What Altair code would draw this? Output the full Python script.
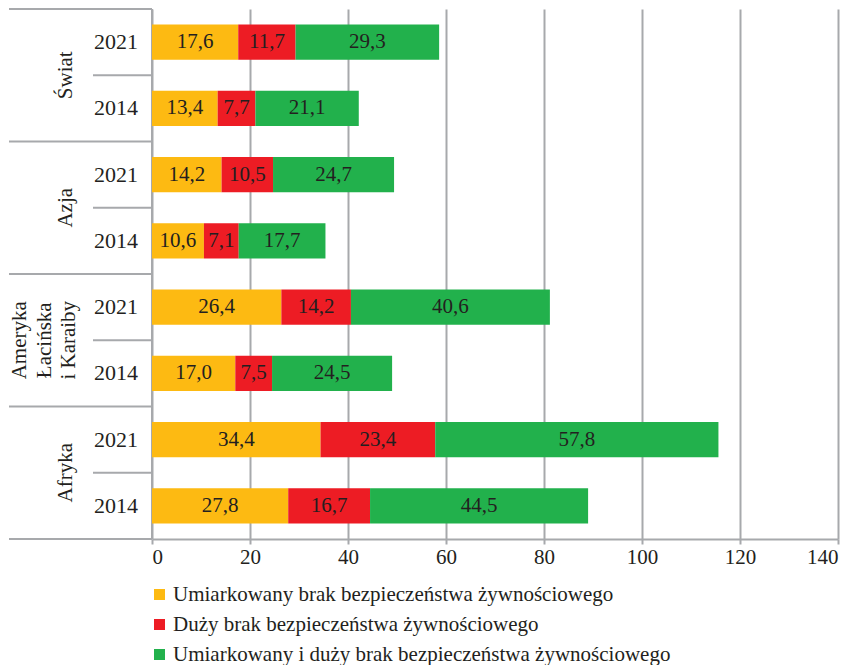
import altair as alt
import pandas as pd

regions = ["Świat", "Azja", "Ameryka\nŁacińska\ni Karaiby", "Afryka"]
years = ["2021", "2014"]
series = [
    "Umiarkowany brak bezpieczeństwa żywnościowego",
    "Duży brak bezpieczeństwa żywnościowego",
    "Umiarkowany i duży brak bezpieczeństwa żywnościowego",
]
colors = ["#FDBA12", "#ED1C24", "#22B14C"]
# order of rows: Świat 2021, Świat 2014, Azja 2021, Azja 2014, ...
moderate = [17.6, 13.4, 14.2, 10.6, 26.4, 17.0, 34.4, 27.8]
severe = [11.7, 7.7, 10.5, 7.1, 14.2, 7.5, 23.4, 16.7]
combined = [29.3, 21.1, 24.7, 17.7, 40.6, 24.5, 57.8, 44.5]
x_ticks = [0, 20, 40, 60, 80, 100, 120, 140]

FONT = "Liberation Serif"
TXT = "#231F20"
GRID = "#A7A9AC"
FS = 21

rows = []
row_order = []
year_rows = []
for ri, reg in enumerate(regions):
    for yi, yr in enumerate(years):
        idx = ri * 2 + yi
        key = f"{reg.replace(chr(10), ' ')} {yr}"
        row_order.append(key)
        year_rows.append({"idx": idx, "year": yr})
        for k, vals in enumerate([moderate, severe, combined]):
            v = vals[idx]
            rows.append({
                "row": key, "k": k, "series": series[k], "value": v,
                "label": f"{v:.1f}".replace(".", ","),
            })
df = pd.DataFrame(rows)
years_df = pd.DataFrame(year_rows)
regions_df = pd.DataFrame({"ri": list(range(len(regions))), "region": regions})
region_bounds = pd.DataFrame({"b": [0, 2, 4, 6, 8]})
year_bounds = pd.DataFrame({"b": [1, 3, 5, 7]})

H = 530
LW = 143
MW = 686

yq = alt.Scale(domain=[0, 8], reverse=True, nice=False, zero=False)

left_years = alt.Chart(years_df).transform_calculate(mid="datum.idx + 0.5").mark_text(
    align="right", baseline="middle", font=FONT, fontSize=22, color=TXT
).encode(
    y=alt.Y("mid:Q", scale=yq, axis=None),
    x=alt.value(129),
    text="year:N",
)
region_base = alt.Chart(regions_df).transform_calculate(
    mid="datum.ri * 2 + 1", multi="indexof(datum.region, '\\n') >= 0"
)
left_regions1 = region_base.transform_filter("!datum.multi").mark_text(
    align="center", baseline="middle", angle=270, font=FONT, fontSize=FS,
    color=TXT, lineBreak="\n", lineHeight=24.5
).encode(
    y=alt.Y("mid:Q", scale=yq, axis=None),
    x=alt.value(57),
    text="region:N",
)
left_regions2 = region_base.transform_filter("datum.multi").mark_text(
    align="center", baseline="middle", angle=270, font=FONT, fontSize=FS,
    color=TXT, lineBreak="\n", lineHeight=24.5
).encode(
    y=alt.Y("mid:Q", scale=yq, axis=None),
    x=alt.value(11),
    text="region:N",
)
left_rsep = alt.Chart(region_bounds).mark_rule(color=GRID, strokeWidth=2).encode(
    y=alt.Y("b:Q", scale=yq, axis=None), x=alt.value(0), x2=alt.value(LW)
)
left_ysep = alt.Chart(year_bounds).mark_rule(color=GRID, strokeWidth=2).encode(
    y=alt.Y("b:Q", scale=yq, axis=None), x=alt.value(84), x2=alt.value(LW)
)
left_vline = alt.Chart(region_bounds).mark_rule(color=GRID, strokeWidth=2).encode(
    x=alt.value(LW), y=alt.Y(datum=0, scale=yq, axis=None), y2=alt.Y2(datum=8)
)
left = alt.layer(left_rsep, left_ysep, left_vline, left_years, left_regions1, left_regions2).properties(
    width=LW, height=H
)

base = alt.Chart(df).transform_stack(
    stack="value", as_=["x0", "x1"], groupby=["row"], sort=[alt.SortField("k", order="ascending")]
).transform_calculate(mid="(datum.x0 + datum.x1) / 2")

yb = alt.Y("row:N", sort=row_order, scale=alt.Scale(paddingInner=0.47, paddingOuter=0.235), axis=None)
xs = alt.Scale(domain=[0, 140], nice=False, zero=True)

bars = base.mark_bar(strokeWidth=0).encode(
    y=yb,
    x=alt.X("x0:Q", scale=xs, axis=alt.Axis(
        values=x_ticks, format="d", title=None, grid=True, gridColor=GRID, gridWidth=2,
        domainColor=GRID, domainWidth=2, tickColor=GRID, tickWidth=2, tickSize=5,
        labelFont=FONT, labelFontSize=FS, labelColor=TXT, labelPadding=2,
    )),
    x2="x1:Q",
    color=alt.Color("series:N", scale=alt.Scale(domain=series, range=colors), legend=alt.Legend(
        orient="none", legendX=LW - 3, legendY=575, direction="vertical", title=None,
        symbolType="square", symbolSize=121, symbolStrokeWidth=0, labelFont=FONT,
        labelFontSize=FS, labelColor=TXT, rowPadding=8, labelLimit=0, labelOffset=3,
    )),
    order=alt.Order("k:Q"),
)
labels = base.mark_text(baseline="middle", align="center", font=FONT, fontSize=FS, color=TXT).encode(
    y=yb,
    x=alt.X("mid:Q", scale=xs),
    text="label:N",
)
main = alt.layer(bars, labels).properties(width=MW, height=H)

chart = alt.hconcat(left, main, spacing=0, bounds="flush").properties(
    padding={"left": 0, "top": 0, "right": 5, "bottom": 0}
).configure_view(stroke=None)

chart.save("out.html", embed_options={"renderer": "svg", "actions": False})
